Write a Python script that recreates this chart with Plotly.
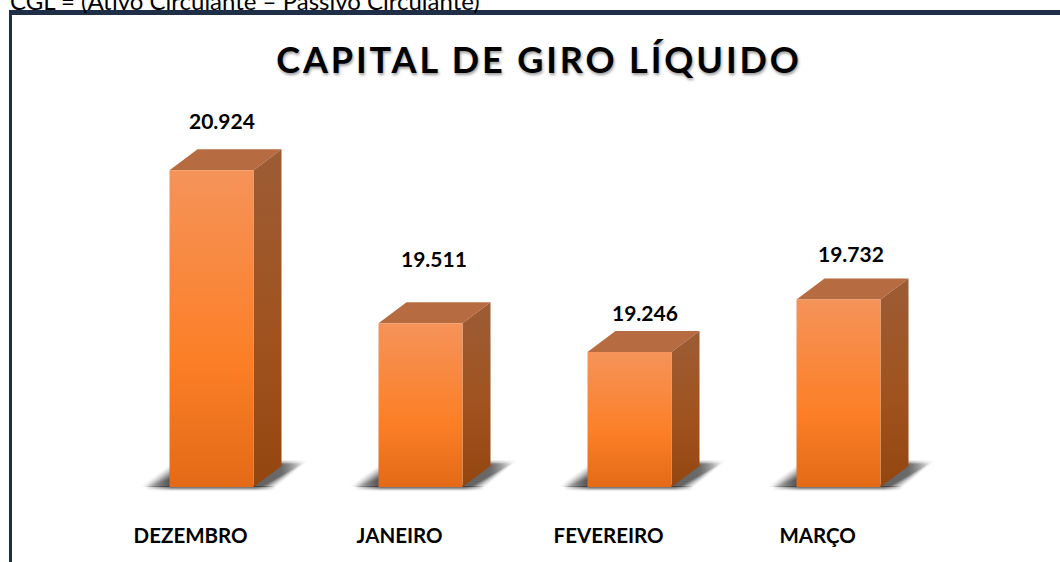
import plotly.graph_objects as go

# Data
categorias = ["DEZEMBRO", "JANEIRO", "FEVEREIRO", "MARÇO"]
valores = [20924, 19511, 19246, 19732]
titulo = "CAPITAL DE GIRO LÍQUIDO"
formula = "CGL = (Ativo Circulante – Passivo Circulante)"

# Layout constants (pixels of the 1060x562 canvas)
W, H = 1060, 562
BASE_PX = 487
PLOT_BOTTOM = 505
PX_CAT = 209.0
X0_PX = 211.5
PX_UNIT = 0.1083
BASELINE = 18000
bar_w = 84 / PX_CAT
dx = 28 / PX_CAT
dy = 21 / PX_UNIT
ux = 1 / PX_CAT      # one pixel in x data units
uy = 1 / PX_UNIT     # one pixel in y data units

label_dx_px = [10.5, 13.5, 15.5, 12.5]
label_gap_px = [50, 65, 40, 46]
tick_shift = -0.1


def py(px):
    """paper y for a canvas pixel row"""
    return 1 - px / PLOT_BOTTOM


fig = go.Figure()


def poly(xs, ys, **kw):
    fig.add_trace(go.Scatter(x=xs + xs[:1], y=ys + ys[:1], mode="lines", fill="toself",
                             line=dict(width=0), hoverinfo="skip", showlegend=False,
                             cliponaxis=False, **kw))


def shade(a):
    return f"rgba(45,45,45,{a:.3f})"


# soft ground shadows, layered for blur
for i in range(4):
    xl, xr = i - bar_w / 2, i + bar_w / 2
    # thin strip under the bar, fading at both ends
    for g, a in [(4, 0.10), (3, 0.18), (2, 0.28), (1, 0.3)]:
        s0, s1 = xl - 24 * ux, xr + 22 * ux
        poly([s0, s1, s1, s0],
             [BASELINE + 1 * uy, BASELINE + 1 * uy, BASELINE - g * uy, BASELINE - g * uy],
             fillgradient=dict(type="horizontal", start=s0, stop=s1,
                               colorscale=[[0, shade(0)], [0.2, shade(a)], [0.85, shade(a)], [1, shade(0)]]))
    for g, a in [(10, 0.05), (8, 0.07), (6, 0.09), (4, 0.11), (2, 0.14), (0, 0.17), (-2, 0.2), (-4, 0.2)]:
        # left wedge
        poly([xl - (25 + g * 0.6) * ux, xl + 3 * ux, xl + 3 * ux],
             [BASELINE + 0 * uy, BASELINE + (13 + g) * uy, BASELINE + 0 * uy],
             fillgradient=dict(type="horizontal", start=xl - (25 + g * 0.6) * ux, stop=xl,
                               colorscale=[[0, shade(0)], [0.5, shade(a * 0.7)], [1, shade(a * 1.4)]]))
        # right wedge along the bar's side
        poly([xr - 3 * ux, xr + dx, xr + dx + (22 + g * 0.6) * ux, xr + (12 + g) * ux],
             [BASELINE, BASELINE + dy + (3 + g * 0.3) * uy,
              BASELINE + dy + (3 + g * 0.3) * uy, BASELINE],
             fillgradient=dict(type="horizontal", start=xr, stop=xr + dx + (22 + g * 0.6) * ux,
                               colorscale=[[0, shade(a * 1.2)], [0.55, shade(a * 1.1)], [1, shade(0)]]))

# 3D bars
for i, v in enumerate(valores):
    xl, xr = i - bar_w / 2, i + bar_w / 2
    # top face
    poly([xl, xr, xr + dx, xl + dx], [v, v, v + dy, v + dy], fillcolor="#B76B41")
    # side face
    poly([xr, xr + dx, xr + dx, xr], [BASELINE, BASELINE + dy, v + dy, v],
         fillgradient=dict(type="vertical", start=v + dy, stop=BASELINE,
                           colorscale=[[0, "#9C5C35"], [0.55, "#A0531F"], [1, "#93460F"]]))
    # front face
    poly([xl, xr, xr, xl], [BASELINE, BASELINE, v, v],
         fillgradient=dict(type="vertical", start=v, stop=BASELINE,
                           colorscale=[[0, "#F59359"], [0.6, "#FC7F27"], [1, "#E46A17"]]))

# value labels
for i, v in enumerate(valores):
    fig.add_annotation(x=i + label_dx_px[i] * ux, y=v + label_gap_px[i] * uy, xref="x", yref="y",
                       text=f"{v:,}".replace(",", "."), showarrow=False, yanchor="middle",
                       font=dict(family="Lato", size=21, color="#000000", weight="bold"))

# formula line cut by the top of the page
fig.add_annotation(xref="paper", yref="paper", x=8 / W, y=py(0), xanchor="left", yanchor="middle",
                   text=formula, showarrow=False, font=dict(family="Lato", size=24, color="#000000"))

# frame
NAVY = "#1F2F48"
fig.add_shape(type="rect", xref="paper", yref="paper", x0=9 / W, x1=1, y0=py(15), y1=py(10),
              fillcolor=NAVY, line_width=0, layer="above")
fig.add_shape(type="rect", xref="paper", yref="paper", x0=9 / W, x1=12 / W, y0=py(H), y1=py(10),
              fillcolor=NAVY, line_width=0, layer="above")

fig.update_layout(
    width=W, height=H, margin=dict(l=0, r=0, t=0, b=H - PLOT_BOTTOM), autosize=False,
    paper_bgcolor="#FFFFFF", plot_bgcolor="rgba(0,0,0,0)", showlegend=False,
    title=dict(text=titulo, x=539 / W, xanchor="center", y=1 - 60 / H, yanchor="middle",
               font=dict(family="Lato", size=36, color="#000000", weight="bold",
                         shadow="1px 2px 3px rgba(0,0,0,0.4)")),
    xaxis=dict(range=[-X0_PX / PX_CAT, (W - X0_PX) / PX_CAT], tickmode="array",
               tickvals=[i + tick_shift for i in range(4)], ticktext=categorias,
               showgrid=False, zeroline=False, showline=False, ticks="outside", ticklen=12,
               tickcolor="rgba(0,0,0,0)", tickangle=0, fixedrange=True,
               tickfont=dict(family="Lato", size=20.5, color="#000000", weight="bold")),
    yaxis=dict(range=[BASELINE - (PLOT_BOTTOM - BASE_PX) * uy, BASELINE + BASE_PX * uy],
               visible=False, fixedrange=True),
)

fig.write_html("out.html", config={"displayModeBar": False},
               post_script="document.body.style.margin='0';"
                           "var t=document.querySelector('.gtitle');if(t){t.style.letterSpacing='2.9px';}")
